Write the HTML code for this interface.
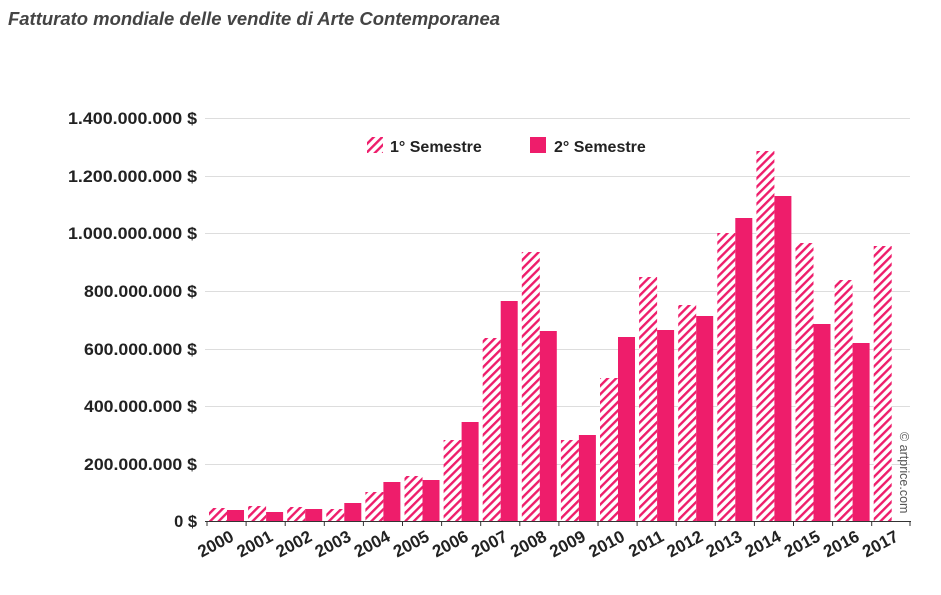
<!DOCTYPE html>
<html><head><meta charset="utf-8"><style>
body{margin:0;background:#fff;width:941px;height:595px;overflow:hidden}
svg{display:block}
text{font-family:"Liberation Sans",sans-serif}
</style></head><body>
<svg width="941" height="595" viewBox="0 0 941 595">
<defs>
<pattern id="h" patternUnits="userSpaceOnUse" width="6" height="6" patternTransform="rotate(45)">
<rect width="6" height="6" fill="#fff"/><rect width="2.4" height="6" fill="#ee1d6b"/>
</pattern>
</defs>
<text x="8" y="25" font-size="18.5" font-style="italic" font-weight="bold" fill="#444" textLength="492" lengthAdjust="spacingAndGlyphs">Fatturato mondiale delle vendite di Arte Contemporanea</text>
<g stroke="#ddd" stroke-width="1">
<line x1="205" x2="910" y1="118.5" y2="118.5"/>
<line x1="205" x2="910" y1="176.5" y2="176.5"/>
<line x1="205" x2="910" y1="233.5" y2="233.5"/>
<line x1="205" x2="910" y1="291.5" y2="291.5"/>
<line x1="205" x2="910" y1="349.5" y2="349.5"/>
<line x1="205" x2="910" y1="406.5" y2="406.5"/>
<line x1="205" x2="910" y1="464.5" y2="464.5"/>
</g>
<g font-size="16.5" font-weight="bold" fill="#222" text-anchor="end">
<text x="197" y="124" textLength="129" lengthAdjust="spacingAndGlyphs">1.400.000.000 $</text>
<text x="197" y="182" textLength="129" lengthAdjust="spacingAndGlyphs">1.200.000.000 $</text>
<text x="197" y="239" textLength="129" lengthAdjust="spacingAndGlyphs">1.000.000.000 $</text>
<text x="197" y="297" textLength="113" lengthAdjust="spacingAndGlyphs">800.000.000 $</text>
<text x="197" y="355" textLength="113" lengthAdjust="spacingAndGlyphs">600.000.000 $</text>
<text x="197" y="412" textLength="113" lengthAdjust="spacingAndGlyphs">400.000.000 $</text>
<text x="197" y="470" textLength="113" lengthAdjust="spacingAndGlyphs">200.000.000 $</text>
<text x="197" y="527">0 $</text>
</g>
<g id="bars"></g>
<line x1="205" x2="911" y1="521.5" y2="521.5" stroke="#333" stroke-width="1"/>
<g id="ticks" stroke="#333"></g>
<g id="labels" font-size="17" font-weight="bold" fill="#222"></g>
<rect x="367" y="137" width="16" height="16" fill="url(#h)"/>
<text x="390" y="152" font-size="16" font-weight="bold" fill="#222">1° Semestre</text>
<rect x="530" y="137" width="16" height="16" fill="#ee1d6b"/>
<text x="554" y="152" font-size="16" font-weight="bold" fill="#222">2° Semestre</text>
<text transform="translate(900,432) rotate(90)" font-size="12.5" fill="#555">© artprice.com</text>
</svg>
<script>
var h=[508,506,507,509,492,476,440,338,252,440,378,277,305,233,151,243,280,246];
var s=[510,512,509,503,482,480,422,301,331,435,337,330,316,218,196,324,343,null];
var b=document.getElementById('bars'),t=document.getElementById('ticks'),l=document.getElementById('labels'),ns='http://www.w3.org/2000/svg';
function el(p,n,a){var e=document.createElementNS(ns,n);for(var k in a)e.setAttribute(k,a[k]);p.appendChild(e);return e;}
for(var i=0;i<18;i++){var x=209+i*39.1;
el(b,'rect',{x:x,y:h[i],width:18,height:521-h[i],fill:'url(#h)'});
if(s[i]!==null)el(b,'rect',{x:x+18,y:s[i],width:17,height:521-s[i],fill:'#ee1d6b'});
el(t,'line',{x1:x-2,x2:x-2,y1:521,y2:526});
var tx=el(l,'text',{transform:'translate('+(x+26)+',540) rotate(-28)','text-anchor':'end'});tx.textContent=2000+i;}
el(t,'line',{x1:910,x2:910,y1:521,y2:526});
</script>
</body></html>
